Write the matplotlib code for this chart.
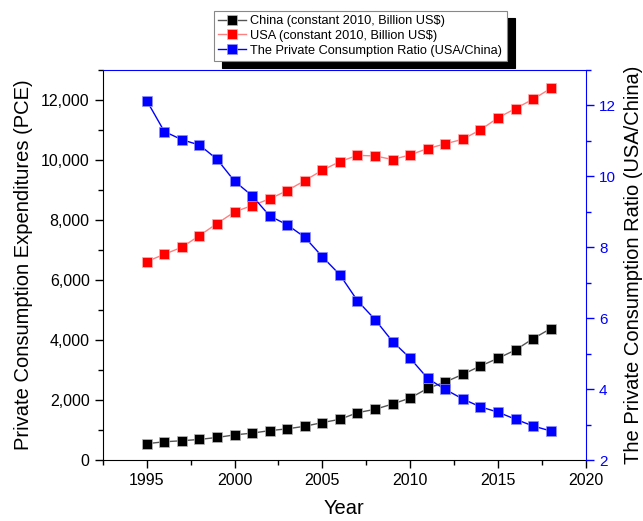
import matplotlib
matplotlib.use("Agg")
import matplotlib.pyplot as plt
from matplotlib.ticker import MultipleLocator, FuncFormatter

years = list(range(1995, 2019))
china = [545, 609, 643, 687, 752, 838, 897, 980, 1040, 1125, 1249, 1357,
         1578, 1690, 1867, 2067, 2389, 2600, 2856, 3133, 3389, 3667, 4044, 4378]
usa = [6611, 6856, 7089, 7478, 7878, 8267, 8478, 8700, 8978, 9311, 9656, 9944,
       10150, 10130, 10011, 10167, 10378, 10533, 10689, 11000, 11400, 11711, 12022, 12378]
ratio = [12.13, 11.26, 11.03, 10.88, 10.48, 9.86, 9.45, 8.88, 8.63, 8.28, 7.73, 7.22,
         6.49, 5.96, 5.34, 4.87, 4.30, 3.99, 3.72, 3.50, 3.35, 3.15, 2.96, 2.82]

plt.rcParams['font.family'] = ['Liberation Sans', 'DejaVu Sans']

fig = plt.figure(figsize=(6.43, 5.21), dpi=100)
ax = fig.add_axes([0.160, 0.117, 0.751, 0.749])
ax2 = ax.twinx()

l1, = ax.plot(years, china, color='#555555', lw=1, marker='s', ms=6.5,
              mfc='black', mec='#bbbbbb', mew=0.5,
              label='China (constant 2010, Billion US$)')
l2, = ax.plot(years, usa, color='#ff8080', lw=1, marker='s', ms=6.5,
              mfc='red', mec='#ffb0b0', mew=0.5,
              label='USA (constant 2010, Billion US$)')
l3, = ax2.plot(years, ratio, color='blue', lw=1, marker='s', ms=6.5,
               mfc='blue', mec='#9090ff', mew=0.5,
               label='The Private Consumption Ratio (USA/China)')

ax.set_xlim(1992.5, 2020)
ax.set_ylim(0, 13000)
ax2.set_ylim(2, 13)

ax.xaxis.set_major_locator(MultipleLocator(5))
ax.xaxis.set_minor_locator(MultipleLocator(2.5))
ax.yaxis.set_major_locator(MultipleLocator(2000))
ax.yaxis.set_minor_locator(MultipleLocator(1000))
ax.yaxis.set_major_formatter(FuncFormatter(lambda v, p: f"{int(v):,}"))
ax2.yaxis.set_major_locator(MultipleLocator(2))
ax2.yaxis.set_minor_locator(MultipleLocator(1))

ax.tick_params(axis='both', which='major', direction='out', length=6, width=1,
               labelsize=11.5, colors='black')
ax.tick_params(axis='both', which='minor', direction='out', length=3.5, width=1)
ax.tick_params(axis='x', top=False, which='both')
ax2.tick_params(axis='y', which='major', direction='out', length=6, width=1,
                colors='blue', labelsize=11)
ax2.tick_params(axis='y', which='minor', direction='out', length=3.5, width=1,
                colors='blue')
ax2.xaxis.set_minor_locator(MultipleLocator(2.5))
ax2.tick_params(axis='x', which='both', top=True, bottom=False, labeltop=False,
                labelbottom=False, direction='in', length=5, width=1, color='blue')

for s in ['left', 'bottom']:
    ax.spines[s].set_color('black')
    ax2.spines[s].set_visible(False)
ax2.spines['top'].set_color('blue')
ax2.spines['right'].set_color('blue')
ax.spines['top'].set_visible(False)
ax.spines['right'].set_visible(False)

ax.set_xlabel('Year', fontsize=14.5, labelpad=8)
ax.set_ylabel('Private Consumption Expenditures (PCE)', fontsize=14.5, labelpad=6)
ax2.set_ylabel('The Private Consumption Ratio (USA/China)', fontsize=14.5, labelpad=6)

leg = fig.legend(handles=[l1, l2, l3], loc='upper center',
                 bbox_to_anchor=(0.56, 0.979), fontsize=9.2, frameon=True,
                 fancybox=False, edgecolor='#888888', borderpad=0.35,
                 labelspacing=0.2, handlelength=2.2, handletextpad=0.3,
                 borderaxespad=0,
                 shadow={'color': 'black', 'alpha': 1, 'ox': 6, 'oy': -5})
leg.get_frame().set_linewidth(0.8)

fig.savefig('out.png', dpi=100)
